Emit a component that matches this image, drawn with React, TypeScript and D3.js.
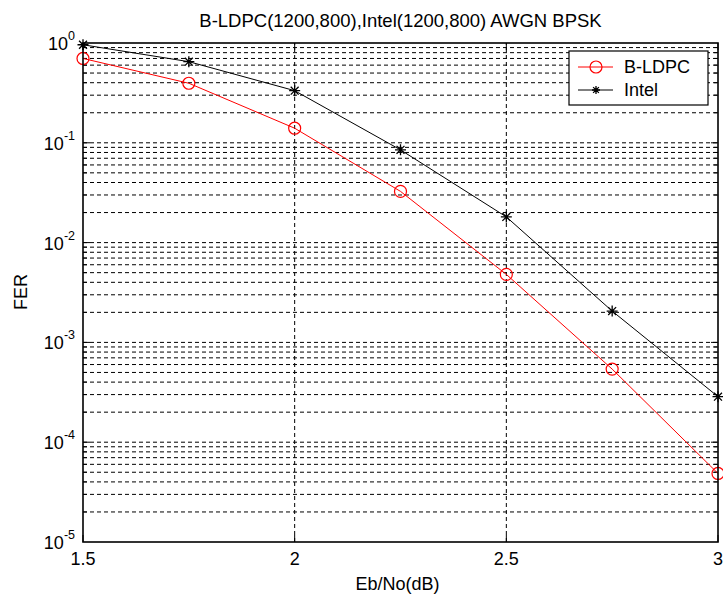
import React from "react";
import * as d3 from "d3";

// DATA
const ebno = [1.5, 1.75, 2, 2.25, 2.5, 2.75, 3];
const ferBLdpc = [0.7, 0.395, 0.14, 0.0326, 0.0048, 0.00054, 0.0000486];
const ferIntel = [0.96, 0.65, 0.333, 0.085, 0.0181, 0.00206, 0.000286];
const xTicks = [1.5, 2, 2.5, 3];
const yExponents = [0, -1, -2, -3, -4, -5];
const seriesNames = ["B-LDPC", "Intel"];
const title = "B-LDPC(1200,800),Intel(1200,800) AWGN BPSK";

const W = 723;
const H = 595;
const margin = { top: 43, right: 5, bottom: 53, left: 83 };
const font = "'Liberation Sans', Arial, sans-serif";

function Star({ x, y, r }: { x: number; y: number; r: number }) {
  const d = r * 0.72;
  return (
    <path
      d={`M${x - r},${y}H${x + r}M${x},${y - r}V${y + r}M${x - d},${y - d}L${x + d},${y + d}M${x - d},${y + d}L${x + d},${y - d}`}
      stroke="#000"
      strokeWidth={1.3}
      fill="none"
    />
  );
}

export default function App() {
  const x = d3.scaleLinear().domain([1.5, 3]).range([margin.left, W - margin.right]);
  const y = d3.scaleLog().domain([1e-5, 1]).range([H - margin.bottom, margin.top]);

  const line = d3
    .line<[number, number]>()
    .x((d) => x(d[0]))
    .y((d) => y(d[1]));

  const bl = ebno.map((e, i) => [e, ferBLdpc[i]] as [number, number]);
  const it = ebno.map((e, i) => [e, ferIntel[i]] as [number, number]);

  const gridY = y.ticks().filter((v) => v < 0.999 && v > 1.0001e-5);
  const x0 = x.range()[0];
  const x1 = x.range()[1];
  const y0 = y.range()[0];
  const y1 = y.range()[1];

  // legend
  const lg = { x: 569, y: 51, w: 139, h: 54 };

  return (
    <svg
      width={W}
      height={H}
      style={{ position: "absolute", left: 0, top: 0, background: "#fff" }}
    >
      <rect width={W} height={H} fill="#fff" />

      {/* GRID */}
      {gridY.map((v, i) => (
        <line
          key={"gy" + i}
          x1={x0}
          x2={x1}
          y1={y(v)}
          y2={y(v)}
          stroke="#000"
          strokeWidth={1}
          strokeDasharray="4,3"
        />
      ))}
      {xTicks.slice(1, -1).map((v) => (
        <line
          key={"gx" + v}
          x1={x(v)}
          x2={x(v)}
          y1={y0}
          y2={y1}
          stroke="#000"
          strokeWidth={1}
          strokeDasharray="4,3"
        />
      ))}

      {/* TICKS */}
      {gridY.map((v, i) => {
        const major = Math.abs(Math.log10(v) - Math.round(Math.log10(v))) < 1e-6;
        const len = major ? 7 : 4;
        return (
          <g key={"ty" + i}>
            <line x1={x0} x2={x0 + len} y1={y(v)} y2={y(v)} stroke="#000" />
            <line x1={x1} x2={x1 - len} y1={y(v)} y2={y(v)} stroke="#000" />
          </g>
        );
      })}
      {xTicks.map((v) => (
        <g key={"tx" + v}>
          <line x1={x(v)} x2={x(v)} y1={y0} y2={y0 - 7} stroke="#000" />
          <line x1={x(v)} x2={x(v)} y1={y1} y2={y1 + 7} stroke="#000" />
        </g>
      ))}

      {/* LINES */}
      <path d={line(it) || ""} fill="none" stroke="#000" strokeWidth={1} />
      <path d={line(bl) || ""} fill="none" stroke="#ff0000" strokeWidth={1} />
      {bl.map((d, i) => (
        <circle key={"c" + i} cx={x(d[0])} cy={y(d[1])} r={6} fill="none" stroke="#ff0000" strokeWidth={1.2} />
      ))}
      {it.map((d, i) => (
        <Star key={"s" + i} x={x(d[0])} y={y(d[1])} r={5.5} />
      ))}

      {/* BOX */}
      <rect x={x0} y={y1} width={x1 - x0} height={y0 - y1} fill="none" stroke="#000" strokeWidth={1.6} />

      {/* TICK LABELS */}
      {xTicks.map((v) => (
        <text
          key={"lx" + v}
          x={x(v)}
          y={y0 + 23}
          textAnchor="middle"
          fontFamily={font}
          fontSize={18}
        >
          {String(v)}
        </text>
      ))}
      {yExponents.map((e) => (
        <text key={"ly" + e} x={x0 - 8} y={y(Math.pow(10, e)) + 7} textAnchor="end" fontFamily={font} fontSize={18}>
          10
          <tspan fontSize={12.5} dy={-10}>
            {String(e)}
          </tspan>
        </text>
      ))}

      {/* TITLES */}
      <text x={(x0 + x1) / 2} y={27} textAnchor="middle" fontFamily={font} fontSize={18.5}>
        {title}
      </text>
      <text x={(x0 + x1) / 2 - 3} y={590} textAnchor="middle" fontFamily={font} fontSize={18}>
        Eb/No(dB)
      </text>
      <text
        transform={`translate(27,292) rotate(-90)`}
        textAnchor="middle"
        fontFamily={font}
        fontSize={18}
      >
        FER
      </text>

      {/* LEGEND */}
      <rect x={lg.x} y={lg.y} width={lg.w} height={lg.h} fill="#fff" stroke="#000" strokeWidth={1.2} />
      <line x1={578} x2={613} y1={67} y2={67} stroke="#ff0000" />
      <circle cx={596} cy={67} r={6} fill="none" stroke="#ff0000" strokeWidth={1.2} />
      <text x={624} y={73} fontFamily={font} fontSize={18}>
        {seriesNames[0]}
      </text>
      <line x1={578} x2={613} y1={90} y2={90} stroke="#000" />
      <Star x={596} y={90} r={4} />
      <text x={624} y={96} fontFamily={font} fontSize={18}>
        {seriesNames[1]}
      </text>
    </svg>
  );
}
